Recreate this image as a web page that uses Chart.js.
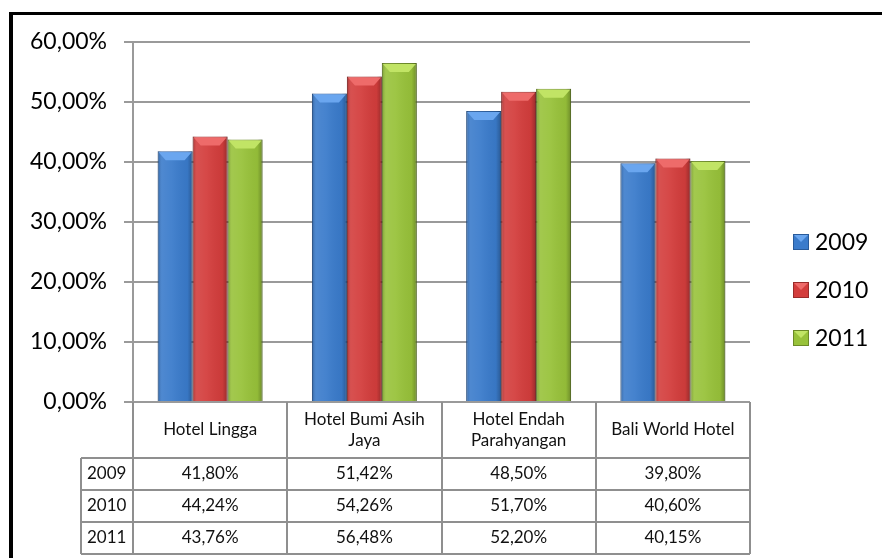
<!DOCTYPE html>
<html>
<head>
<meta charset="utf-8">
<script src="https://cdn.jsdelivr.net/npm/chart.js@4"></script>
<style>
  html, body { margin: 0; padding: 0; background: #fff; }
  #wrap { width: 882px; height: 558px; }
</style>
</head>
<body>
<div id="wrap"><canvas id="occupancyChart" width="882" height="558"></canvas></div>
<script>
const hotels = [
  ["Hotel Lingga"],
  ["Hotel Bumi Asih", "Jaya"],
  ["Hotel Endah", "Parahyangan"],
  ["Bali World Hotel"],
];
const years = ["2009", "2010", "2011"];
const values2009 = [41.8, 51.42, 48.5, 39.8];
const values2010 = [44.24, 54.26, 51.7, 40.6];
const values2011 = [43.76, 56.48, 52.2, 40.15];
const yTicks = [0, 10, 20, 30, 40, 50, 60];

const seriesValues = [values2009, values2010, values2011];
const fillColors = ["#3a7bcb", "#d33d3c", "#98c23a"];
const edgeColors = ["#285a9a", "#992b2a", "#6c8a27"];
const capColors = ["#6aa6ef", "#ee6b6a", "#c1e465"];

const FONT = "Lato, 'Open Sans', sans-serif";

function formatPct(v) {
  return v.toFixed(2).replace(".", ",") + "%";
}

// white page with the black frame of the original figure
const framePlugin = {
  id: "frame",
  beforeDraw(chart) {
    const ctx = chart.ctx;
    ctx.save();
    ctx.fillStyle = "#fff";
    ctx.fillRect(0, 0, chart.width, chart.height);
    ctx.fillStyle = "#000";
    ctx.fillRect(9, 12, chart.width - 9, 3);
    ctx.fillRect(9, 12, 4, chart.height - 12);
    ctx.restore();
  },
};

// glossy look for each bar
const bevelPlugin = {
  id: "bevel",
  afterDatasetsDraw(chart) {
    const ctx = chart.ctx;
    chart.data.datasets.forEach((ds, di) => {
      const meta = chart.getDatasetMeta(di);
      meta.data.forEach((bar) => {
        const p = bar.getProps(["x", "y", "base", "width"], true);
        const left = p.x - p.width / 2;
        const right = p.x + p.width / 2;
        const g = ctx.createLinearGradient(left, 0, right, 0);
        g.addColorStop(0, "rgba(0,0,0,0.22)");
        g.addColorStop(0.12, "rgba(255,255,255,0.10)");
        g.addColorStop(0.4, "rgba(255,255,255,0.06)");
        g.addColorStop(0.85, "rgba(0,0,0,0.04)");
        g.addColorStop(1, "rgba(0,0,0,0.28)");
        ctx.save();
        ctx.fillStyle = g;
        ctx.fillRect(left, p.y, p.width, p.base - p.y);
        ctx.fillStyle = capColors[di];
        ctx.beginPath();
        ctx.moveTo(left + 1, p.y + 1);
        ctx.lineTo(right - 1, p.y + 1);
        ctx.lineTo(right - 8, p.y + 9);
        ctx.lineTo(left + 8, p.y + 9);
        ctx.closePath();
        ctx.fill();
        ctx.restore();
      });
    });
  },
};

// data table under the plot, like the spreadsheet chart
const tablePlugin = {
  id: "dataTable",
  afterDraw(chart) {
    const ctx = chart.ctx;
    const x = chart.scales.x;
    const area = chart.chartArea;
    const colW = (area.right - area.left) / hotels.length;
    const headTop = area.bottom;
    const headH = 56;
    const rowH = 32;
    const labelW = 52;
    const tableBottom = headTop + headH + rowH * years.length;
    ctx.save();
    ctx.strokeStyle = "#8f8f8f";
    ctx.lineWidth = 2;
    ctx.beginPath();
    for (let i = 0; i <= hotels.length; i++) {
      const lx = Math.round(area.left + colW * i);
      ctx.moveTo(lx, headTop);
      ctx.lineTo(lx, tableBottom);
    }
    ctx.moveTo(area.left - labelW, headTop + headH);
    ctx.lineTo(area.left - labelW, tableBottom);
    for (let r = 0; r <= years.length; r++) {
      const ly = Math.round(headTop + headH + rowH * r);
      ctx.moveTo(area.left - labelW, ly);
      ctx.lineTo(area.right, ly);
    }
    ctx.stroke();

    ctx.fillStyle = "#111";
    ctx.font = "17px " + FONT;
    ctx.textAlign = "center";
    ctx.textBaseline = "middle";
    hotels.forEach((lines, i) => {
      const cx = x.getPixelForValue(i);
      const cy = headTop + headH / 2;
      const lh = 21;
      lines.forEach((line, li) => {
        ctx.fillText(line, cx, cy + (li - (lines.length - 1) / 2) * lh);
      });
    });
    years.forEach((yr, r) => {
      const cy = headTop + headH + rowH * r + rowH / 2;
      ctx.textAlign = "left";
      ctx.fillText(yr, area.left - labelW + 6, cy);
      ctx.textAlign = "center";
      seriesValues[r].forEach((v, i) => {
        ctx.fillText(formatPct(v), x.getPixelForValue(i), cy);
      });
    });
    ctx.restore();
  },
};

// legend to the right of the plot
const legendPlugin = {
  id: "sideLegend",
  afterDraw(chart) {
    const ctx = chart.ctx;
    const area = chart.chartArea;
    const boxX = area.right + 43;
    const midY = 290;
    const gap = 48;
    ctx.save();
    ctx.font = "23px " + FONT;
    ctx.textBaseline = "middle";
    ctx.textAlign = "left";
    chart.data.datasets.forEach((ds, i) => {
      const cy = midY + (i - 1) * gap;
      ctx.fillStyle = fillColors[i];
      ctx.fillRect(boxX, cy - 8, 16, 16);
      ctx.fillStyle = capColors[i];
      ctx.beginPath();
      ctx.moveTo(boxX + 1, cy - 7);
      ctx.lineTo(boxX + 15, cy - 7);
      ctx.lineTo(boxX + 8, cy);
      ctx.closePath();
      ctx.fill();
      ctx.strokeStyle = edgeColors[i];
      ctx.lineWidth = 1;
      ctx.strokeRect(boxX + 0.5, cy - 7.5, 15, 15);
      ctx.fillStyle = "#000";
      ctx.fillText(ds.label, boxX + 22, cy + 1);
    });
    ctx.restore();
  },
};

const datasets = years.map((yr, i) => ({
  label: yr,
  data: seriesValues[i],
  backgroundColor: fillColors[i],
  borderColor: edgeColors[i],
  borderWidth: 1,
  categoryPercentage: 0.68,
  barPercentage: 1.0,
}));

const config = {
  type: "bar",
  data: {
    labels: hotels.map((h) => h.join(" ")),
    datasets: datasets,
  },
  options: {
    responsive: false,
    animation: false,
    layout: {
      padding: { left: 13, top: 42, right: 132, bottom: 156 },
    },
    plugins: {
      legend: { display: false },
      tooltip: { enabled: false },
    },
    scales: {
      x: {
        display: false,
      },
      y: {
        min: 0,
        max: 60,
        afterFit: (scale) => {
          scale.width = 120;
        },
        afterBuildTicks: (scale) => {
          scale.ticks = yTicks.map((v) => ({ value: v }));
        },
        ticks: {
          padding: 17,
          color: "#000",
          font: { family: FONT, size: 23 },
          callback: (v) => formatPct(v),
        },
        grid: {
          color: "#9a9a9a",
          lineWidth: 2,
          tickLength: 9,
        },
        border: {
          color: "#9a9a9a",
          width: 2,
        },
      },
    },
  },
  plugins: [framePlugin, bevelPlugin, tablePlugin, legendPlugin],
};

const ctx = document.getElementById("occupancyChart").getContext("2d");
new Chart(ctx, config);
</script>
</body>
</html>
